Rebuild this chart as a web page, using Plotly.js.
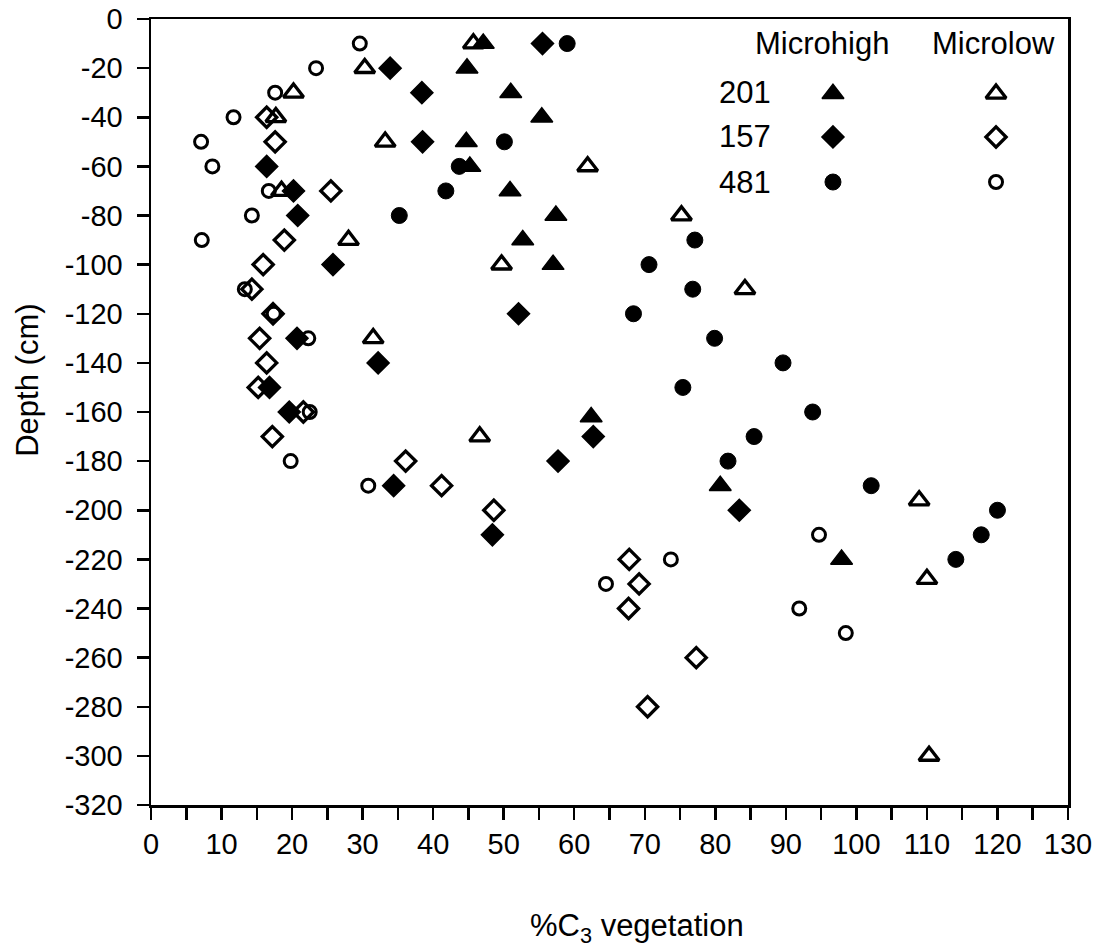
<!DOCTYPE html>
<html>
<head>
<meta charset="utf-8">
<script src="https://cdn.plot.ly/plotly-3.0.1.min.js"></script>
<style>
  html, body { margin: 0; padding: 0; background: #fff; }
  #chart { width: 1097px; height: 951px; }
</style>
</head>
<body>
<div id="chart"></div>
<script>
// ---- Data ----
const depth201High = [-10, -20, -30, -40, -50, -60, -70, -80, -90, -100, -162, -190, -220];
const c3_201High   = [47.1, 44.8, 51.0, 55.4, 44.7, 45.2, 50.9, 57.4, 52.7, 57.0, 62.4, 80.7, 97.9];

const depth201Low = [-10, -20, -30, -40, -50, -60, -70, -80, -90, -100, -110, -130, -170, -196, -228, -300];
const c3_201Low   = [45.7, 30.3, 20.2, 17.7, 33.2, 61.9, 18.5, 75.2, 28.0, 49.7, 84.2, 31.5, 46.6, 108.9, 110.0, 110.3];

const depth157High = [-10, -20, -30, -50, -60, -70, -80, -100, -120, -130, -140, -150, -160, -170, -180, -190, -200, -210];
const c3_157High   = [55.5, 33.9, 38.4, 38.5, 16.4, 20.2, 20.8, 25.8, 52.1, 20.7, 32.2, 16.8, 19.6, 62.7, 57.7, 34.4, 83.4, 48.4];

const depth157Low = [-40, -50, -70, -90, -100, -110, -120, -130, -140, -150, -160, -170, -180, -190, -200, -220, -230, -240, -260, -280];
const c3_157Low   = [16.4, 17.6, 25.5, 18.9, 15.9, 14.3, 17.3, 15.4, 16.4, 15.2, 21.6, 17.2, 36.1, 41.2, 48.6, 67.8, 69.2, 67.7, 77.3, 70.4];

const depth481High = [-10, -50, -60, -70, -80, -90, -100, -110, -120, -130, -140, -150, -160, -170, -180, -190, -200, -210, -220];
const c3_481High   = [59.0, 50.1, 43.7, 41.8, 35.2, 77.1, 70.6, 76.8, 68.4, 79.9, 89.6, 75.4, 93.8, 85.5, 81.8, 102.1, 120.0, 117.7, 114.1];

const depth481Low = [-10, -20, -30, -40, -50, -60, -70, -80, -90, -110, -120, -130, -160, -180, -190, -210, -220, -230, -240, -250];
const c3_481Low   = [29.6, 23.4, 17.6, 11.7, 7.1, 8.7, 16.7, 14.3, 7.2, 13.3, 17.4, 22.3, 22.5, 19.8, 30.8, 94.7, 73.7, 64.5, 91.9, 98.5];

const xTickVals = [0, 10, 20, 30, 40, 50, 60, 70, 80, 90, 100, 110, 120, 130];
const xTickText = ["0", "10", "20", "30", "40", "50", "60", "70", "80", "90", "100", "110", "120", "130"];
const yTickVals = [0, -20, -40, -60, -80, -100, -120, -140, -160, -180, -200, -220, -240, -260, -280, -300, -320];
const yTickText = ["0", "-20", "-40", "-60", "-80", "-100", "-120", "-140", "-160", "-180", "-200", "-220", "-240", "-260", "-280", "-300", "-320"];

const cores = ["201", "157", "481"];
const groups = ["Microhigh", "Microlow"];

// ---- Styles ----
const FONT = "Liberation Sans, Arial, Helvetica, sans-serif";
const styles = {
  "201-high": { symbol: "triangle-up", size: 19, color: "#000", line: { color: "#000", width: 1.5 } },
  "201-low":  { symbol: "triangle-up-open", size: 17.5, color: "#000", line: { color: "#000", width: 3.3 } },
  "157-high": { symbol: "diamond", size: 17, color: "#000", line: { color: "#000", width: 1.5 } },
  "157-low":  { symbol: "diamond-open", size: 15.5, color: "#000", line: { color: "#000", width: 3.3 } },
  "481-high": { symbol: "circle", size: 16, color: "#000", line: { color: "#000", width: 1 } },
  "481-low":  { symbol: "circle-open", size: 13, color: "#000", line: { color: "#000", width: 3 } }
};

function mk(x, y, key) {
  return { type: "scatter", mode: "markers", x: x, y: y, marker: styles[key],
           hoverinfo: "x+y", showlegend: false, cliponaxis: false };
}

const traces = [
  mk(c3_201High, depth201High, "201-high"),
  mk(c3_201Low, depth201Low, "201-low"),
  mk(c3_157High, depth157High, "157-high"),
  mk(c3_157Low, depth157Low, "157-low"),
  mk(c3_481High, depth481High, "481-high"),
  mk(c3_481Low, depth481Low, "481-low")
];

// ---- Custom legend (table: rows = cores, columns = groups) ----
const legColX = [0.7437, 0.9215];
const legRowY = [0.905, 0.8499, 0.7926];
const legKeys = [["201-high", "201-low"], ["157-high", "157-low"], ["481-high", "481-low"]];
legKeys.forEach((row, r) => {
  row.forEach((key, c) => {
    traces.push({ type: "scatter", mode: "markers", x: [legColX[c]], y: [legRowY[r]],
      xaxis: "x2", yaxis: "y2", marker: styles[key], hoverinfo: "skip", showlegend: false, cliponaxis: false });
  });
});

const annotations = [];
const headerX = [0.7317, 0.9187];
groups.forEach((g, i) => annotations.push({
  xref: "paper", yref: "paper", x: headerX[i], y: 0.9682, text: g, showarrow: false,
  xanchor: "center", yanchor: "middle", font: { family: FONT, size: 31, color: "#000" }
}));
const labelY = [0.9059, 0.8511, 0.7926];
cores.forEach((c, i) => annotations.push({
  xref: "paper", yref: "paper", x: 0.6172, y: labelY[i], text: c, showarrow: false,
  xanchor: "left", yanchor: "middle", font: { family: FONT, size: 31, color: "#000" }
}));
// axis titles
annotations.push({
  xref: "paper", yref: "paper", x: 0.53, y: -0.156, text: "%C<sub>3</sub> vegetation", showarrow: false,
  xanchor: "center", yanchor: "middle", font: { family: FONT, size: 31, color: "#000" }
});
annotations.push({
  xref: "paper", yref: "paper", x: -0.135, y: 0.54, text: "Depth (cm)", showarrow: false, textangle: -90,
  xanchor: "center", yanchor: "middle", font: { family: FONT, size: 31, color: "#000" }
});

const layout = {
  width: 1097, height: 951,
  margin: { l: 151, r: 29, t: 19, b: 146 },
  paper_bgcolor: "#fff", plot_bgcolor: "#fff",
  showlegend: false,
  font: { family: FONT, size: 28, color: "#000" },
  xaxis: {
    range: [0, 130], showgrid: false, zeroline: false,
    showline: true, linecolor: "#000", linewidth: 2.5, mirror: true,
    ticks: "outside", ticklen: 12, tickwidth: 2.5, tickcolor: "#000",
    tickmode: "array", tickvals: xTickVals, ticktext: xTickText,
    tickfont: { family: FONT, size: 29, color: "#000" },
    minor: { dtick: 5, ticks: "outside", ticklen: 12, tickwidth: 2.5, tickcolor: "#000", showgrid: false }
  },
  yaxis: {
    range: [-320, 0], showgrid: false, zeroline: false,
    showline: true, linecolor: "#000", linewidth: 2.5, mirror: true,
    ticks: "outside", ticklen: 12, tickwidth: 2.5, tickcolor: "#000",
    tickmode: "array", tickvals: yTickVals, ticktext: yTickText,
    tickfont: { family: FONT, size: 29, color: "#000" },
    ticklabelstandoff: 8
  },
  xaxis2: { overlaying: "x", range: [0, 1], visible: false, fixedrange: true },
  yaxis2: { overlaying: "y", range: [0, 1], visible: false, fixedrange: true },
  annotations: annotations
};

Plotly.newPlot("chart", traces, layout, { displayModeBar: false, staticPlot: true });
</script>
</body>
</html>
